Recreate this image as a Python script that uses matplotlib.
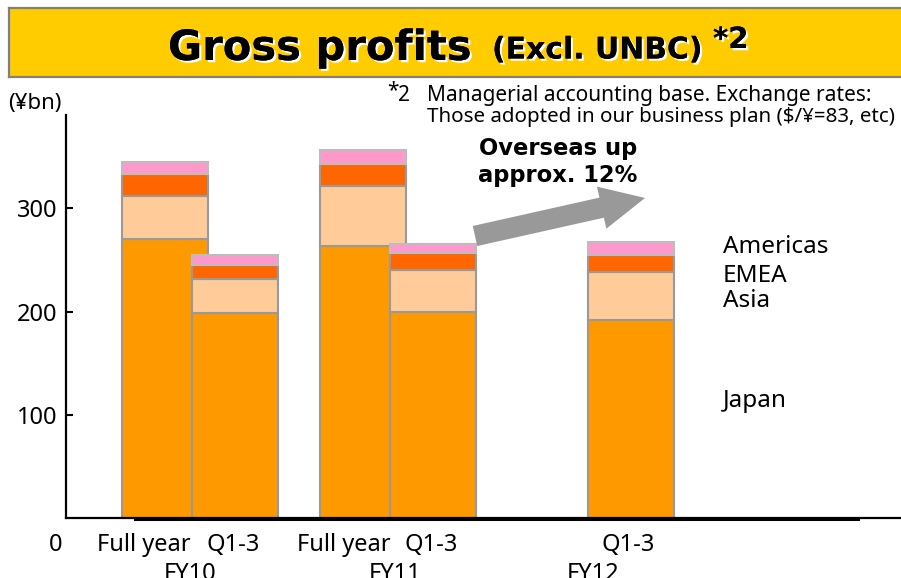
import matplotlib
matplotlib.use("Agg")
import matplotlib.pyplot as plt
from matplotlib.patches import Rectangle, FancyArrowPatch
import matplotlib.patheffects as pe

plt.rcParams["font.family"] = ["Noto Sans", "DejaVu Sans"]

# Gross profits by region (¥bn), excluding UNBC
periods = ["Full year", "Q1-3", "Full year", "Q1-3", "Q1-3"]
fiscal_years = ["FY10", "FY11", "FY12"]
regions = ["Japan", "Asia", "EMEA", "Americas"]
japan = [270, 199, 264, 200, 192]
asia = [42, 33, 58, 40, 46]
emea = [21, 13, 21, 17, 17]
americas = [12, 10, 13, 8, 12]
y_ticks = [100, 200, 300]
callout = "Overseas up\napprox. 12%"

W, H = 901, 578
fig = plt.figure(figsize=(W / 100, H / 100), dpi=100)


def fx(x):
    return x / W


def fy(y):
    return 1 - y / H


# plot area
ax_left, ax_right, ax_top, ax_bottom = 66, 901, 115, 518.35
ax = fig.add_axes([fx(ax_left), fy(ax_bottom), fx(ax_right) - fx(ax_left),
                   fy(ax_top) - fy(ax_bottom)])
ax.set_xlim(0, (ax_right - ax_left) / 86)
ax.set_ylim(0, (ax_bottom - ax_top) / 1.0335)
ax.set_facecolor("none")

# bar layout (in bar-width units)
slots = [1.148, 1.962, 3.453, 4.267, 6.570]
period_label_x = [0.907, 1.948, 3.233, 4.244, 6.535]
year_label_x = [1.442, 3.826, 6.128]

colors = {"Japan": "#FF9900", "Asia": "#FFCC99", "EMEA": "#FF6600", "Americas": "#FF99CC"}
edges = {"Japan": "#999999", "Asia": "#999999", "EMEA": "#999999", "Americas": "#BDBDBD"}
series = [japan, asia, emea, americas]

for i, x in enumerate(slots):
    bottom = 0
    for name, vals in zip(regions, series):
        ax.bar(x, vals[i], bottom=bottom, width=1.0, color=colors[name],
               edgecolor=edges[name], linewidth=1.5, zorder=2 + i)
        bottom += vals[i]

# axes styling
for side in ("top", "right"):
    ax.spines[side].set_visible(False)
for side in ("left", "bottom"):
    ax.spines[side].set_linewidth(1.6)
    ax.spines[side].set_color("black")
    ax.spines[side].set_zorder(10)
ax.set_xticks([])
ax.set_yticks(y_ticks)
ax.set_yticklabels([str(v) for v in y_ticks])
ax.tick_params(axis="y", direction="in", length=5, width=1.5, pad=6,
               labelsize=17, colors="black")

# heavier baseline segment under the bars
fig.add_artist(plt.Line2D([fx(135), fx(858)], [fy(518.6), fy(518.6)],
                          color="black", linewidth=2.2, zorder=11))

# zero label and category labels
label_row = -(551 - ax_bottom) / (ax_bottom - ax_top)
year_row = -(579.5 - ax_bottom) / (ax_bottom - ax_top)
fig.text(fx(62), fy(551), "0", ha="right", va="baseline", fontsize=17)
for lx, lab in zip(period_label_x, periods):
    ax.text(lx, label_row, lab, transform=ax.get_xaxis_transform(), fontsize=17,
            ha="center", va="baseline", clip_on=False)
for lx, lab in zip(year_label_x, fiscal_years):
    ax.text(lx, year_row, lab, transform=ax.get_xaxis_transform(), fontsize=17,
            ha="center", va="baseline", clip_on=False)

# unit label
fig.text(fx(8), fy(109), "(¥bn)", ha="left", va="baseline", fontsize=16)

# region labels beside the last bar
region_label_y = {"Americas": 253, "EMEA": 282, "Asia": 307, "Japan": 407}
for name in ["Americas", "EMEA", "Asia", "Japan"]:
    fig.text(fx(723), fy(region_label_y[name]), name, ha="left", va="baseline",
             fontsize=17.5)

# title band: yellow fill, grey rule on top, bottom and left only
band = Rectangle((fx(9), fy(77)), 1.0 - fx(9), fy(7.5) - fy(77),
                 transform=fig.transFigure, facecolor="#FFCC00",
                 edgecolor="none", zorder=0)
fig.add_artist(band)
for xs, ys in (([9, 901], [7.5, 7.5]), ([9, 901], [77, 77]), ([9, 9], [7.5, 77])):
    fig.add_artist(plt.Line2D([fx(v) for v in xs], [fy(v) for v in ys],
                              color="#808080", linewidth=1.6, zorder=1))
shadow = [pe.withSimplePatchShadow(offset=(1.6, -1.6), shadow_rgbFace="white",
                                   alpha=1.0), pe.Normal()]
fig.text(fx(168), fy(60), "Gross profits", ha="left", va="baseline",
         fontsize=30, fontweight="bold", family="DejaVu Sans",
         path_effects=shadow)
fig.text(fx(492), fy(58.5), "(Excl. UNBC)", ha="left", va="baseline",
         fontsize=21.5, fontweight="bold", family="DejaVu Sans",
         path_effects=shadow)
fig.text(fx(713), fy(48), "*2", ha="left", va="baseline",
         fontsize=21, fontweight="bold", family="DejaVu Sans",
         path_effects=shadow)

# footnote
fig.text(fx(387), fy(96), "*", ha="left", va="baseline", fontsize=15)
fig.text(fx(398), fy(100.7), "2", ha="left", va="baseline", fontsize=15)
fig.text(fx(427), fy(100.7), "Managerial accounting base. Exchange rates:",
         ha="left", va="baseline", fontsize=15)
fig.text(fx(427), fy(122.3), "Those adopted in our business plan ($/¥=83, etc)",
         ha="left", va="baseline", fontsize=14.8)

# growth arrow and callout
tail = (4.756, 273.2)
tip = (6.733, 310.0)
arrow = FancyArrowPatch(tail, tip, arrowstyle="simple,head_length=32,head_width=31,tail_width=14.8",
                        mutation_scale=1, color="#999999", linewidth=0,
                        shrinkA=0, shrinkB=0, zorder=20, clip_on=False)
ax.add_patch(arrow)
callout_lines = callout.split("\n")
fig.text(fx(558), fy(155), callout_lines[0], ha="center", va="baseline",
         fontsize=16.3, fontweight="bold", family="DejaVu Sans")
fig.text(fx(558), fy(182), callout_lines[1], ha="center", va="baseline",
         fontsize=16.3, fontweight="bold", family="DejaVu Sans")

fig.savefig("out.png", dpi=100)
